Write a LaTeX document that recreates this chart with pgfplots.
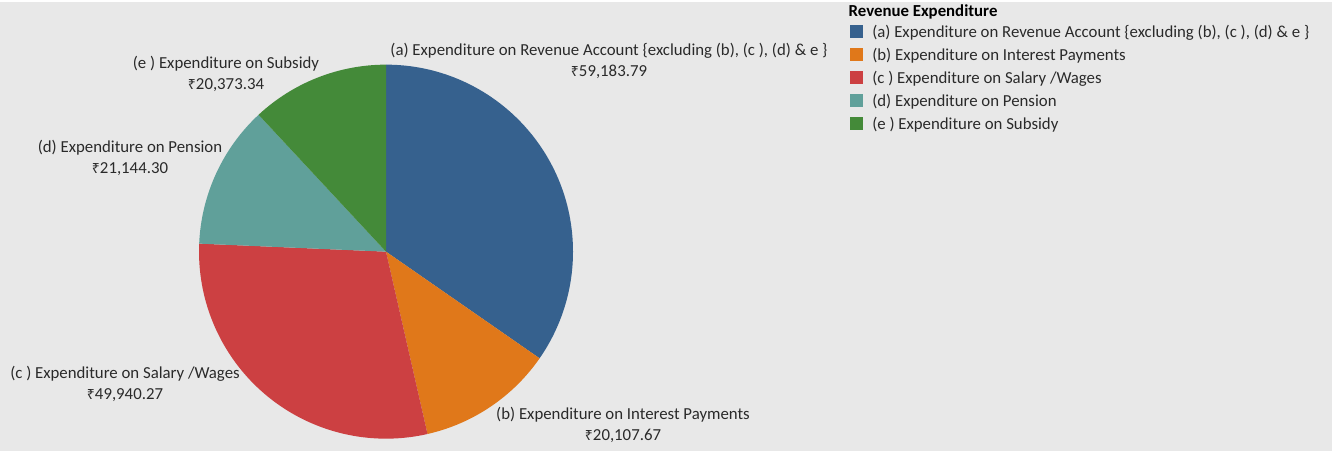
\documentclass[border=0pt]{standalone}
\usepackage{fontspec}
\setmainfont{Carlito}
\newfontfamily\rupeefont{Noto Sans}
\usepackage{pgfplots}
\pgfplotsset{compat=1.18}
\usepackage{pgfplotstable}

\definecolor{bg}{HTML}{E8E8E8}
\definecolor{txt}{HTML}{2A2A2A}
\definecolor{cA}{HTML}{36618E}
\definecolor{cB}{HTML}{E0781A}
\definecolor{cC}{HTML}{CC4042}
\definecolor{cD}{HTML}{60A09A}
\definecolor{cE}{HTML}{448A39}

\newcommand{\Rs}{{\rupeefont\fontsize{10.5}{10}\selectfont ₹}}
\newcommand{\lblfont}{\fontsize{12.6}{15.75}\selectfont}

% revenue expenditure, clockwise from 12 o'clock
\pgfplotstableread{
key value
a 59183.79
b 20107.67
c 49940.27
d 21144.30
e 20373.34
}\expdata

% one pie slice: colour, start angle, end angle (centre 386,199 px; r = 187 px)
\newcommand{\slice}[3]{%
  \edef\tmp{\noexpand\fill[#1] (axis cs:386,199) --
    (axis cs:\fpeval{386+187*cosd(#2)},\fpeval{199+187*sind(#2)})
    arc[start angle=#2, end angle=#3, radius=140.25pt] -- cycle;}\tmp}

\begin{document}
\begin{tikzpicture}
\pgfplotstablegetelem{0}{value}\of\expdata \let\va\pgfplotsretval
\pgfplotstablegetelem{1}{value}\of\expdata \let\vb\pgfplotsretval
\pgfplotstablegetelem{2}{value}\of\expdata \let\vc\pgfplotsretval
\pgfplotstablegetelem{3}{value}\of\expdata \let\vd\pgfplotsretval
\pgfplotstablegetelem{4}{value}\of\expdata \let\ve\pgfplotsretval
\edef\tot{\fpeval{\va+\vb+\vc+\vd+\ve}}
\edef\angA{\fpeval{90-360*\va/\tot}}
\edef\angB{\fpeval{\angA-360*\vb/\tot}}
\edef\angC{\fpeval{\angB-360*\vc/\tot}}
\edef\angD{\fpeval{\angC-360*\vd/\tot}}
\begin{axis}[
    x=0.75pt, y=0.75pt,
    xmin=0, xmax=1332, ymin=0, ymax=449,
    hide axis, clip=false,
    legend style={at={(axis cs:846,430.5)}, anchor=north west,
      draw=none, fill=none, font=\lblfont, text=txt,
      row sep=0pt, nodes={inner sep=0pt, text height=11pt, text depth=6.25pt}},
    legend cell align=left,
    /tikz/every odd column/.append style={column sep=6.75pt},
    legend image code/.code={\fill[#1, draw=none] (0pt,-2.9pt) rectangle (9.75pt,6.9pt);},
  ]
  \fill[bg] (axis cs:0,0) rectangle (axis cs:1332,449);

  \slice{cA}{90}{\angA}
  \slice{cB}{\angA}{\angB}
  \slice{cC}{\angB}{\angC}
  \slice{cD}{\angC}{\angD}
  \slice{cE}{\angD}{-270}

  \addlegendimage{fill=cA}
  \addlegendentry{(a) Expenditure on Revenue Account \{excluding (b), (c ), (d) \& e \}}
  \addlegendimage{fill=cB}
  \addlegendentry{(b) Expenditure on Interest Payments}
  \addlegendimage{fill=cC}
  \addlegendentry{(c ) Expenditure on Salary /Wages}
  \addlegendimage{fill=cD}
  \addlegendentry{(d) Expenditure on Pension}
  \addlegendimage{fill=cE}
  \addlegendentry{(e ) Expenditure on Subsidy}

  \node[font=\lblfont\bfseries, text=black, anchor=west] at (axis cs:844,439) {Revenue Expenditure};

  \begin{scope}[every node/.style={font=\lblfont, text=txt, align=center}]
    \node at (axis cs:609,389.5) {(a) Expenditure on Revenue Account \{excluding (b), (c ), (d) \& e \}\\\Rs59,183.79};
    \node at (axis cs:623,25.5) {(b) Expenditure on Interest Payments\\\Rs20,107.67};
    \node at (axis cs:125,67) {(c ) Expenditure on Salary /Wages\\\Rs49,940.27};
    \node at (axis cs:130,293) {(d) Expenditure on Pension\\\Rs21,144.30};
    \node at (axis cs:226,376.5) {(e ) Expenditure on Subsidy\\\Rs20,373.34};
  \end{scope}
\end{axis}
\end{tikzpicture}
\end{document}
